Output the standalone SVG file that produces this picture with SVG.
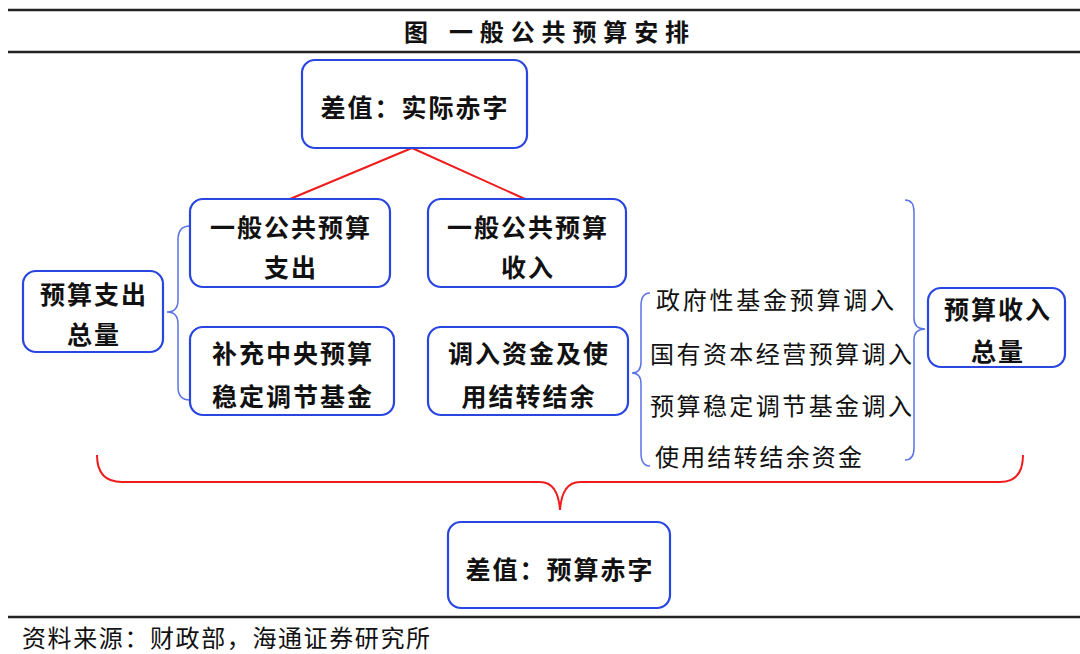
<svg xmlns="http://www.w3.org/2000/svg" width="1080" height="654" viewBox="0 0 1080 654">
<style>
.box{fill:#fff;stroke:#2a46e0;stroke-width:2.2}
.t{font-family:"Noto Sans CJK SC","Noto Sans",sans-serif;font-size:25px;fill:#111;text-anchor:middle;dominant-baseline:central}
.b{font-weight:bold;letter-spacing:2px}
.l{font-family:"Noto Sans CJK SC","Noto Sans",sans-serif;font-size:24px;fill:#111;dominant-baseline:central}
.rule{stroke:#222;stroke-width:2.5}
.red{fill:none;stroke:#ee1c1c;stroke-width:2}
.blue{fill:none;stroke:#5a73e6;stroke-width:1.5}
</style>
<rect width="1080" height="654" fill="#fff"/>
<line class="rule" x1="8" y1="10" x2="1080" y2="10"/>
<line class="rule" x1="8" y1="52" x2="1080" y2="52"/>
<line class="rule" x1="8" y1="617" x2="1080" y2="617"/>
<text class="l" x="404" y="30" font-size="27" font-weight="bold">图<tspan x="449" textLength="240">一般公共预算安排</tspan></text>
<g id="connectors">
<path class="red" d="M412 148 L290 199 M412 148 L525 199"/>
<path class="red" d="M97 455 Q97 482 122 482 L540 482 Q558 482 560 510 Q562 482 580 482 L1000 482 Q1023 482 1023 455"/>
<path class="blue" d="M190 226 Q178 226 178 240 L178 300 Q178 312 167 312 Q178 312 178 324 L178 387 Q178 400 190 400"/>
<path class="blue" d="M650 293 Q641 293 641 306 L641 362 Q641 373 632 373 Q641 373 641 384 L641 453 Q641 466 650 466"/>
<path class="blue" d="M905 200 Q914 200 914 212 L914 318 Q914 329 925 329 Q914 329 914 340 L914 448 Q914 460 905 460"/>
</g>
<g id="n-actual"><rect class="box" x="302" y="60" width="225" height="88" rx="13"/><text class="t b" x="415" y="106">差值：实际赤字</text></g>
<g id="n-gexp"><rect class="box" x="190" y="199" width="200" height="88" rx="13"/><text class="t b" x="291" y="226">一般公共预算</text><text class="t b" x="291" y="266">支出</text></g>
<g id="n-fund"><rect class="box" x="190" y="327" width="204" height="88" rx="13"/><text class="t b" x="293" y="352">补充中央预算</text><text class="t b" x="293" y="395">稳定调节基金</text></g>
<g id="n-exptotal"><rect class="box" x="23" y="271" width="140" height="81" rx="13"/><text class="t b" x="94" y="293">预算支出</text><text class="t b" x="94" y="333">总量</text></g>
<g id="n-grev"><rect class="box" x="428" y="199" width="198" height="88" rx="13"/><text class="t b" x="528" y="226">一般公共预算</text><text class="t b" x="528" y="266">收入</text></g>
<g id="n-transfer"><rect class="box" x="428" y="327" width="200" height="88" rx="13"/><text class="t b" x="529" y="352">调入资金及使</text><text class="t b" x="529" y="395">用结转结余</text></g>
<g id="n-list">
<text class="l" x="656" y="298" textLength="238">政府性基金预算调入</text>
<text class="l" x="650" y="352" textLength="262">国有资本经营预算调入</text>
<text class="l" x="650" y="404" textLength="262">预算稳定调节基金调入</text>
<text class="l" x="655" y="455" textLength="207">使用结转结余资金</text>
</g>
<g id="n-revtotal"><rect class="box" x="928" y="288" width="137" height="79" rx="13"/><text class="t b" x="998" y="308">预算收入</text><text class="t b" x="998" y="350">总量</text></g>
<g id="n-budget"><rect class="box" x="448" y="522" width="222" height="86" rx="13"/><text class="t b" x="560" y="568">差值：预算赤字</text></g>
<text class="l" x="22" y="636" font-size="21" textLength="408">资料来源：财政部，海通证券研究所</text>
</svg>
